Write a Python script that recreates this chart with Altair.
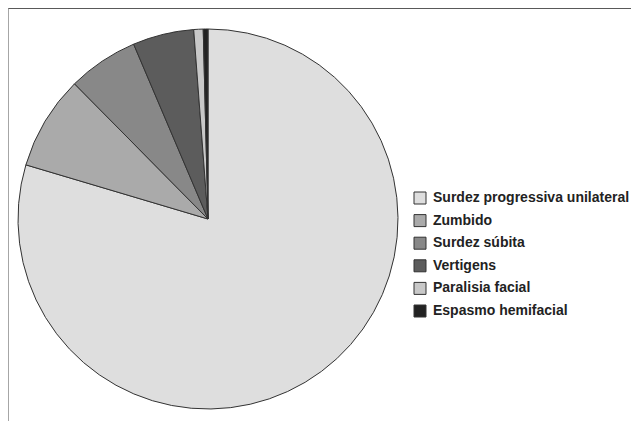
import altair as alt
import pandas as pd

categories = ["Surdez progressiva unilateral", "Zumbido", "Surdez súbita",
              "Vertigens", "Paralisia facial", "Espasmo hemifacial"]
counts = [199, 20, 15, 13, 2, 1]
colors = ["#dedede", "#aaaaaa", "#888888", "#5c5c5c", "#c8c8c8", "#222222"]

df = pd.DataFrame({"cat": categories, "n": counts, "ord": list(range(len(categories)))})

W, H = 623, 413

pie = alt.Chart(df).mark_arc(radius=190, stroke="#333333", strokeWidth=1).encode(
    theta=alt.Theta("n:Q", stack=True),
    order=alt.Order("ord:Q"),
    color=alt.Color("cat:N", sort=categories,
                    scale=alt.Scale(domain=categories, range=colors),
                    legend=alt.Legend(title=None, orient="none", legendX=405, legendY=183,
                                      symbolType="square", symbolSize=144,
                                      symbolStrokeColor="#333333", symbolStrokeWidth=1,
                                      labelFont="Liberation Sans", labelFontSize=14,
                                      labelFontWeight="bold", labelColor="#222222",
                                      rowPadding=6.6, labelOffset=6, labelLimit=300)),
    x=alt.value(200), y=alt.value(211),
)

frame_df = pd.DataFrame({"k": [0]})
top = alt.Chart(frame_df).mark_rule(color="#222222", strokeWidth=1.5).encode(
    x=alt.value(0), x2=alt.value(W), y=alt.value(0))
left = alt.Chart(frame_df).mark_rule(color="#888888", strokeWidth=1.5).encode(
    x=alt.value(0), y=alt.value(0), y2=alt.value(H))

chart = alt.layer(pie, top, left).properties(
    width=W, height=H, padding=0, autosize=alt.AutoSizeParams(type="none")
).configure_view(stroke=None)
chart.save("out.html", embed_options={"renderer": "svg", "actions": False})
